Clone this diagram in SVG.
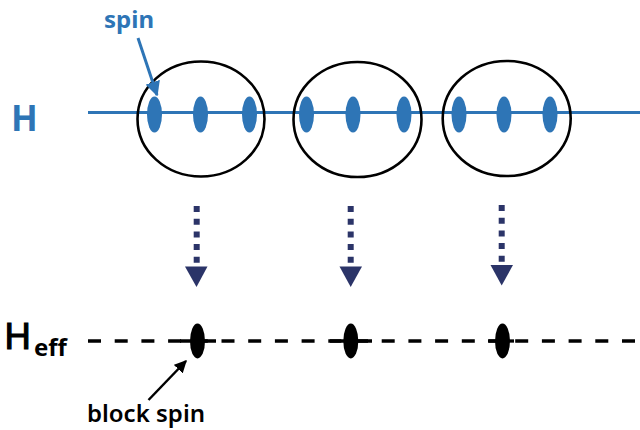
<svg xmlns="http://www.w3.org/2000/svg" width="640" height="430" viewBox="0 0 640 430">
<style>
.spin{fill:#2e75b6}
.block{fill:none;stroke:#000;stroke-width:2.6}
.bspin{fill:#000}
.down{stroke:#2b3468;stroke-width:6;stroke-dasharray:6 6.7;fill:none}
.head{fill:#2b3468}
.lbl{font-family:"Noto Sans","Liberation Sans",sans-serif}
</style>
<defs>
<marker id="ab" viewBox="0 0 10 10" refX="9" refY="5" markerWidth="5" markerHeight="5" orient="auto"><path d="M0,0 L10,5 L0,10 z" fill="#2e75b6"/></marker>
<marker id="ak" viewBox="0 0 10 10" refX="9" refY="5" markerWidth="5" markerHeight="5" orient="auto"><path d="M0,0 L10,5 L0,10 z" fill="#000"/></marker>
</defs>
<g id="chain-H">
<line x1="88" y1="112.5" x2="640" y2="112.5" stroke="#2e75b6" stroke-width="3.2"/>
<text class="lbl" x="11" y="131" font-size="35" font-weight="bold" fill="#2e75b6">H</text>
</g>
<g id="block1">
<ellipse class="block" cx="201" cy="119" rx="63.5" ry="57.5"/>
<ellipse class="spin" cx="154.5" cy="114.5" rx="7.5" ry="18"/>
<ellipse class="spin" cx="200.5" cy="114.5" rx="7.5" ry="18"/>
<ellipse class="spin" cx="249.5" cy="114.5" rx="7.5" ry="18"/>
</g>
<g id="block2">
<ellipse class="block" cx="357.5" cy="119.5" rx="64" ry="57.5"/>
<ellipse class="spin" cx="306.5" cy="114.5" rx="7.5" ry="18"/>
<ellipse class="spin" cx="353" cy="114.5" rx="7.5" ry="18"/>
<ellipse class="spin" cx="404" cy="114.5" rx="7.5" ry="18"/>
</g>
<g id="block3">
<ellipse class="block" cx="506.7" cy="118.5" rx="64" ry="57.5"/>
<ellipse class="spin" cx="459" cy="114.5" rx="7.5" ry="18"/>
<ellipse class="spin" cx="504" cy="114.5" rx="7.5" ry="18"/>
<ellipse class="spin" cx="550" cy="114.5" rx="7.5" ry="18"/>
</g>
<g id="spin-label">
<text class="lbl" x="104" y="28" font-size="24" font-weight="bold" fill="#2e75b6">spin</text>
</g>
<g id="chain-Heff">
<line x1="88" y1="341" x2="640" y2="341" stroke="#000" stroke-width="3.3" stroke-dasharray="13 13.7"/>
<line x1="180" y1="341" x2="216" y2="341" stroke="#000" stroke-width="3.3"/>
<line x1="330" y1="341" x2="372" y2="341" stroke="#000" stroke-width="3.3"/>
<line x1="488" y1="341" x2="514" y2="341" stroke="#000" stroke-width="3.3"/>
<text class="lbl" x="4" y="348.5" font-size="37" fill="#000" stroke="#000" stroke-width="1.2">H</text>
<text class="lbl" x="34" y="356" font-size="24" font-weight="bold" fill="#000">eff</text>
</g>
<g id="bspin1"><ellipse class="bspin" cx="197.5" cy="341" rx="7.5" ry="17.5"/></g>
<g id="bspin2"><ellipse class="bspin" cx="350.8" cy="341" rx="7.5" ry="17.5"/></g>
<g id="bspin3"><ellipse class="bspin" cx="502.5" cy="341" rx="7.5" ry="17.5"/></g>
<g id="block-spin-label">
<text class="lbl" x="87" y="421.5" font-size="24" font-weight="600" fill="#000">block spin</text>
</g>
<g id="connectors">
<line x1="138" y1="38" x2="157" y2="95" stroke="#2e75b6" stroke-width="3" marker-end="url(#ab)"/>
<line x1="148.5" y1="400" x2="186" y2="361" stroke="#000" stroke-width="2.5" marker-end="url(#ak)"/>
<line class="down" x1="196.7" y1="206" x2="196.7" y2="266"/>
<path class="head" d="M185,266.5 L207.5,266.5 L196.5,287 z"/>
<line class="down" x1="350.7" y1="206" x2="350.7" y2="266"/>
<path class="head" d="M339.5,266.5 L362,266.5 L350.7,287 z"/>
<line class="down" x1="501.7" y1="205" x2="501.7" y2="265"/>
<path class="head" d="M490.5,265 L513,265 L501.7,285.5 z"/>
</g>
</svg>
